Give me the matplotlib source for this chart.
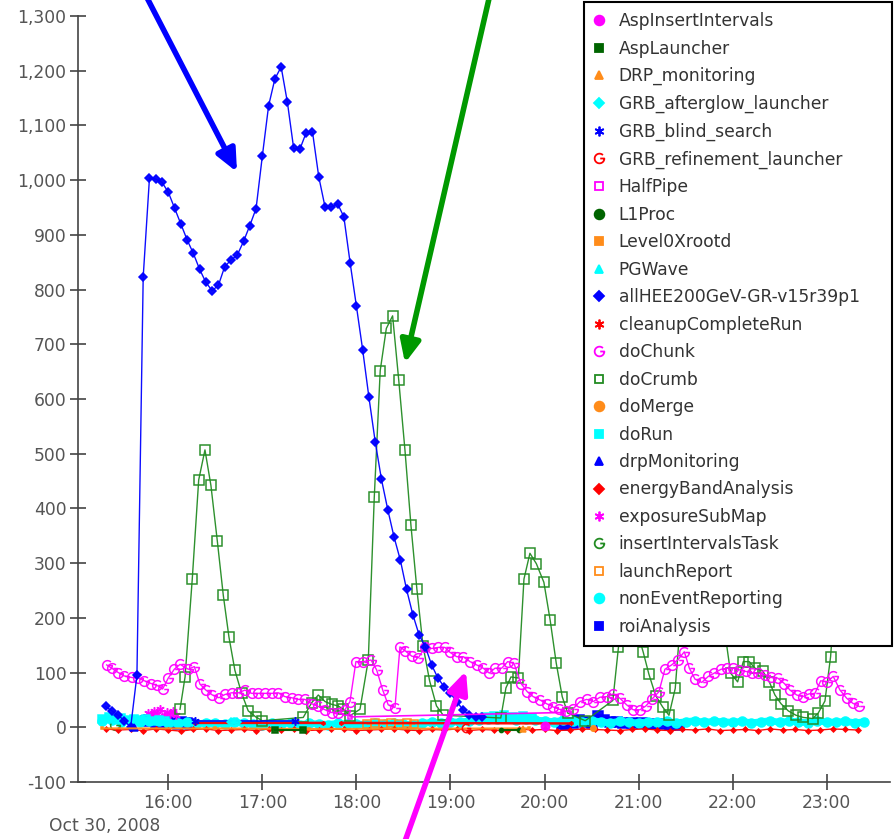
import matplotlib
matplotlib.use('Agg')
import matplotlib.pyplot as plt
import numpy as np
from matplotlib.path import Path
from matplotlib.lines import Line2D
from matplotlib.ticker import FuncFormatter, MultipleLocator

nan = np.nan

# all times are minutes after 15:00 on Oct 30, 2008
hee_t = list(range(20, 264, 4))
hee_v = [38, 30, 22, 12, 0, 95, 823, 1004, 1002, 996, 978, 949, 920, 891, 866,
         837, 813, 798, 808, 842, 854, 863, 888, 917, 948, 1044, 1136, 1185,
         1207, 1142, 1058, 1057, 1087, 1088, 1006, 951, 951, 957, 933, 849, 770,
         690, 603, 522, 453, 398, 348, 306, 252, 206, 169, 147, 114, 90, 74, 62,
         47, 32, 22, 19, 18]

crumb_t = [67.5, 70.7, 75.3, 79.4, 83.4, 87.2, 91.3, 95.1, 98.7, 102.5, 106.8,
           111, 115.8, 120, 146.1, 151.5, 155.7, 160, 164.2, 168.4, 171.6,
           175.9, 182.3, 187.6, 191.4, 195.2, 199.1, 203.1, 207, 211, 214.8,
           218.6, 222.5, 226.7, 231.1, 235.4, 272.1, 275.4, 278.6, 283.3, 286.9,
           290.7, 294.8, 299.6, 303.6, 307.5, 311.3, 314.8, 326, 343.6, 347.2,
           351.1, 355.3, 359.2, 363, 366.6, 370.9, 375.4, 379.4, 383.4, 387.4,
           391.3, 394.9, 399.1, 403, 406.6, 410.5, 415.1, 418.7, 423.2, 426.8,
           430.6, 434.3, 439.2, 443.4, 447, 450.9, 455.5, 460.4, 465.1, 471.1,
           474.6, 478.9, 482.5, 486.4, 491.6, 495.5, 499.1]
crumb_v = [33, 92, 271, 452, 507, 442, 340, 241, 165, 104, 62,
           30, 19, 12, 18, 45, 59, 47, 42, 39, 33,
           21, 33, 123, 420, 652, 729, 752, 635, 506, 369,
           252, 149, 85, 39, 22, 17, 72, 92, 90, 271,
           318, 299, 265, 196, 117, 56, 26, 12, 49, 147,
           231, 213, 175, 137, 97, 58, 37, 22, 71, 221,
           498, 618, 601, 501, 380, 271, 173, 99, 83, 120,
           120, 108, 103, 83, 59, 43, 30, 22, 18, 16,
           26, 48, 129, 286, 357, 305, 258]

chunk_t = [20.7, 23.9, 28.1, 31.7, 36.7, 40.9, 44.7, 49, 52.6, 56.4, 60, 63.8,
           67.5, 72.8, 76.6, 80.2, 84, 88.1, 92.3, 96.2, 100.4, 104.7, 108.9,
           113.2, 117.4, 121.7, 126, 130.2, 134.4, 138.7, 142.9, 147.2, 151.5,
           155.7, 160, 164.2, 168.4, 172.7, 175.9, 179.7, 184.4, 189.3, 192.9,
           196.8, 200.3, 204.6, 207.8, 211, 215.3, 219.5, 223.8, 228, 232.2,
           236.5, 239.7, 244, 248.2, 252.5, 256.7, 260.9, 264.8, 268.4, 272.7,
           276.5, 280.5, 285, 289, 292.8, 297.1, 301.4, 305.6, 309.4, 313.7,
           318, 322.6, 326.9, 331.1, 335.4, 339.7, 343.9, 348.1, 352.4, 356.6,
           360.9, 364.7, 368.7, 373, 376.8, 381.1, 385, 389.2, 392.4, 396,
           400.3, 404.5, 408.3, 412.6, 416.2, 420.4, 424.2, 428.5, 432.2,
           436.4, 440.6, 444.5, 448.7, 453, 456.6, 460.9, 464.7, 468.7, 472.5,
           476.2, 480.4, 484.2, 488.5, 492.8, 496.6, 500.8]
chunk_v = [114, 108, 100, 94, 91, 90, 85, 80, 77, 70, 90, 106,
           115, 106, 111, 79, 68, 59, 54, 60, 63, 63, 68,
           62, 62, 62, 62, 63, 56, 54, 51, 51, 43,
           38, 32, 27, 27, 32, 47, 120, 120, 123, 105,
           68, 41, 36, 147, 140, 130, 127, 146, 144, 146,
           146, 137, 129, 129, 120, 114, 108, 99, 108, 108,
           120, 117, 80, 65, 56, 50, 43, 37, 33, 29,
           33, 47, 51, 47, 55, 56, 61, 53, 41, 32,
           32, 39, 52, 65, 106, 114, 123, 138, 108, 88,
           82, 93, 99, 106, 108, 108, 105, 102, 100,
           99, 96, 91, 90, 80, 68, 59, 56, 61, 62,
           85, 83, 93, 68, 53, 44, 38]

nonevent_t = list(range(18, 510, 6))
nonevent_v = [12, 14, 10, 13, 9, 12, 11, 8,
              7, 9, 6, 8, 7, 6, 9, 7, 6,
              5, 7, 6, 8, 5, 7, 6, 5, 7, 6,
              6, 5, 7, 6, 8, 6, 5, 7, 9, 8,
              10, 9, 12, 14, 16, 15, 17, 14, 16, 13,
              12, 10, 13, 11, 9, 12, 10, 8, 11, 9,
              8, 10, 9, 11, 8, 10, 12, 9, 11, 10,
              9, 11, 8, 10, 12, 9, 11, 10, 8, 11,
              10, 9, 11, 8, 10]

dorun_t = [18, 22, 26, 30, 34, 38, 42, 46, 50, 54, 58, 60, 262, 268, 274, 280, 286, 292]
dorun_v = [16, 18, 15, 17, 14, 16, 13, 15, 12, 14, 11, nan, 18, 20, 22, 19, 21, 17]

energy_t = list(range(20, 508, 8))
energy_v = [-3, -5, -4, -6, -3, -5, -7, -4, -3, -6, -5, -4, -6, -3, -5, -4,
            -6, -5, -3, -4, -6, -5, -4, -3, -5, -6, -4, -5, -3, -6, -4, -5,
            -6, -3, -5, -4, -6, -5, -3, -4, -5, -6, -4, -3, -5, -6, -4, -5,
            -3, -6, -5, -4, -6, -3, -5, -4, -6, -5, -3, -4, -5]

cleanup_t = [77, 159, 164, 170, 317]
cleanup_v = [8, 8, nan, 8, 7]
blind_t = [77, 141]
blind_v = [11, 11]
level0_t = [18, 90, 150, 290]
level0_v = [-2, -2, -3, -2]
asplaunch_t = [128, 146]
asplaunch_v = [-5, -5]
l1proc_t = [272, 284]
l1proc_v = [-5, -5]
drp_t = [286]
drp_v = [-4]
merge_t = [331]
merge_v = [-2]
launch_t = [187, 192, 197, 202, 207, 212, 217]
launch_v = [6, 7, 6, 7, 6, 7, 6]
roi_t = [46, 48, 52, 56, 58, 60, 62, 64, 66, 68, 70, 72, 74, 76,
         311, 314, 318, 322, 326, 330, 334, 338, 342, 346, 350, 356, 362, 368, 374, 380, 386]
roi_v = [12, 14, 8, 9, 10, 7, 9, 8, 6, 9, 7, 8, 6, nan,
         6, 4, 8, 13, 10, 8, 21, 14, 10, 9, 8, 7, 7, 6, 6, 5, 5]
drpmon_t = [38]
drpmon_v = [0]
insert_t = [26]
insert_v = [4]
expo_t = [47, 49, 51, 53, 55, 57, 59, 61, 63, 65]
expo_v = [27, 22, 30, 25, 33, 21, 28, 24, 30, 23]
halfpipe_t = [176, 312]
halfpipe_v = [19, 27]
aspins_t = [300]
aspins_v = [3]
afterglow_t = [100, 104]
afterglow_v = [9, 9]
pgwave_t = [420]
pgwave_v = [8]
refine_t = [250]
refine_v = [-1]

hour_ticks = [16, 17, 18, 19, 20, 21, 22, 23]

# "G" shaped marker (open circle with a bar)
arc = Path.arc(45, 360)
g_mark = Path(np.vstack([arc.vertices, [[0.15, 0.0]]]),
              np.concatenate([arc.codes, [Path.LINETO]]))
ast = (6, 2, 0)

MAG, GRN, BLU, CYA, RED, ORA, DGR = '#ff00ff', '#228b22', '#0000ff', '#00ffff', '#ff0000', '#ff8c1a', '#006400'

# name, t, v, color, marker, markersize, filled, linewidth
series = [
    ('AspInsertIntervals', aspins_t, aspins_v, MAG, 'o', 6, True, 1),
    ('AspLauncher', asplaunch_t, asplaunch_v, DGR, 's', 5, True, 1.5),
    ('DRP_monitoring', drp_t, drp_v, ORA, '^', 5, True, 1),
    ('GRB_afterglow_launcher', afterglow_t, afterglow_v, CYA, 'D', 4, True, 1),
    ('GRB_blind_search', blind_t, blind_v, BLU, ast, 6, True, 1.2),
    ('GRB_refinement_launcher', refine_t, refine_v, RED, g_mark, 6, False, 1),
    ('HalfPipe', halfpipe_t, halfpipe_v, MAG, 's', 3, False, 1.2),
    ('L1Proc', l1proc_t, l1proc_v, DGR, 'o', 3, True, 1.5),
    ('Level0Xrootd', level0_t, level0_v, ORA, 's', 2, True, 1.5),
    ('PGWave', pgwave_t, pgwave_v, CYA, '^', 5, True, 1),
    ('allHEE200GeV-GR-v15r39p1', hee_t, hee_v, BLU, 'D', 4.5, True, 1),
    ('cleanupCompleteRun', cleanup_t, cleanup_v, RED, ast, 3, True, 1.8),
    ('doChunk', chunk_t, chunk_v, MAG, g_mark, 7, False, 1),
    ('doCrumb', crumb_t, crumb_v, GRN, 's', 6.5, False, 1),
    ('doMerge', merge_t, merge_v, ORA, 'o', 4, True, 1),
    ('doRun', dorun_t, dorun_v, CYA, 's', 6, True, 3),
    ('drpMonitoring', drpmon_t, drpmon_v, BLU, '^', 6, True, 1),
    ('energyBandAnalysis', energy_t, energy_v, RED, 'D', 2.5, True, 1),
    ('exposureSubMap', expo_t, expo_v, MAG, ast, 6, True, 1),
    ('insertIntervalsTask', insert_t, insert_v, GRN, g_mark, 7, False, 1),
    ('launchReport', launch_t, launch_v, ORA, 's', 6, False, 1),
    ('nonEventReporting', nonevent_t, nonevent_v, CYA, 'o', 6.5, True, 5),
    ('roiAnalysis', roi_t, roi_v, BLU, 's', 6.5, True, 3),
]

fig = plt.figure(figsize=(8.96, 8.39), dpi=100)
ax = fig.add_axes([78.3 / 896, 57 / 839, 811.7 / 896, 766 / 839])

n = len(series)
handles = []
for i, (name, t, v, col, mk, ms, filled, lw) in enumerate(series):
    x = 15 + np.asarray(t, float) / 60
    ax.plot(x, v, color=col, lw=lw, marker=mk, ms=ms,
            mfc=col if filled else 'none', mec=col, mew=1.1,
            zorder=10 + n - i, alpha=0.95)
    hms = {'D': 5, 's': 6, 'o': 7, '^': 6}.get(mk if isinstance(mk, str) else '', 7)
    # the long label gets a little trailing room: the original font has wider digits
    label = name + '    ' if name.startswith('allHEE') else name
    handles.append(Line2D([], [], ls='none', marker=mk, ms=hms, color=col,
                          mfc=col if filled else 'none', mec=col, mew=1.3, label=label))

ax.set_xlim(15 + 2.6 / 60, 15 + 520.4 / 60)
ax.set_ylim(-100, 1300)
ax.yaxis.set_major_locator(MultipleLocator(100))
ax.yaxis.set_major_formatter(FuncFormatter(lambda v, p: f"{int(round(v)):,}"))
ax.set_xticks(hour_ticks)
ax.set_xticklabels([f"{h}:00" for h in hour_ticks])
for s in ['top', 'right']:
    ax.spines[s].set_visible(False)
for s in ['left', 'bottom']:
    ax.spines[s].set_color('#444444')
    ax.spines[s].set_linewidth(1.2)
ax.tick_params(direction='inout', length=11, width=1.2, color='#444444',
               labelcolor='#555555', labelsize=12.3, pad=3)

fig.text(49 / 896, 1 - 826 / 839, 'Oct 30, 2008', fontsize=12.3, color='#555555',
         ha='left', va='center')

leg = fig.legend(handles=handles, loc='upper right',
                 bbox_to_anchor=(892 / 896, 1 - 2 / 839), bbox_transform=fig.transFigure,
                 fontsize=12.3, frameon=True, fancybox=False, framealpha=1,
                 edgecolor='black', borderpad=0.6, handlelength=0.45,
                 handletextpad=0.95, labelspacing=0.555, borderaxespad=0)
leg.get_frame().set_linewidth(1.5)
for txt in leg.get_texts():
    txt.set_color('#333333')
leg.set_zorder(50)

# pointer arrows drawn over the figure (figure pixel coordinates)
arrows = [((143, 849), (237, 667), BLU), ((491, 849), (405, 476), '#009900'),
          ((404, -5), (466, 168), MAG)]
for tail, tip, col in arrows:
    ax.annotate('', xy=tip, xytext=tail, xycoords='figure pixels',
                textcoords='figure pixels', zorder=60,
                arrowprops=dict(arrowstyle='-|>,head_length=1.1,head_width=0.5',
                                mutation_scale=12, lw=4.0, color=col,
                                shrinkA=0, shrinkB=0))

fig.savefig('out.png', dpi=100)
